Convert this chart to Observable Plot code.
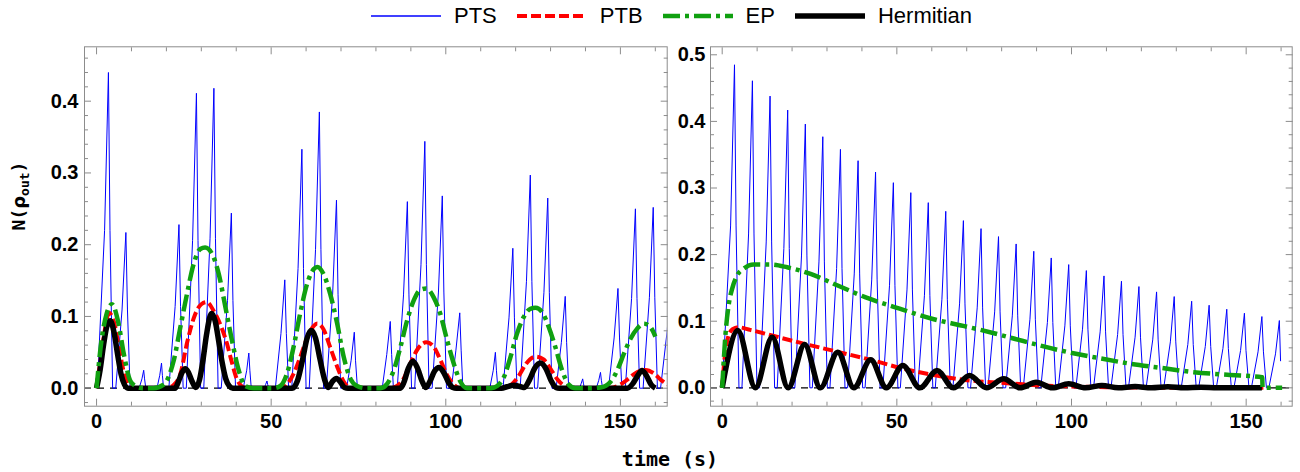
<!DOCTYPE html>
<html>
<head>
<meta charset="utf-8">
<script src="https://cdn.jsdelivr.net/npm/d3@7"></script>
<script src="https://cdn.jsdelivr.net/npm/@observablehq/plot@0.6"></script>
<style>
  html, body { margin: 0; padding: 0; background: #fff; }
  #root { position: relative; width: 1300px; height: 472px; overflow: hidden; background: #fff; }
  .panel { position: absolute; top: 0; }
  #legend { position: absolute; left: 371px; top: 2px; height: 28px; display: flex; align-items: center;
            font: 22px "Liberation Sans", Arial, sans-serif; color: #000; }
  #legend .item { display: flex; align-items: center; margin-right: 20px; }
  #legend svg { display: block; margin-right: 13px; }
  #xtitle { position: absolute; left: 670px; top: 459px; transform: translate(-50%, -50%);
            font: bold 20px "DejaVu Sans Mono", monospace; white-space: pre; }
  #ytitle { position: absolute; left: 20px; top: 196px; transform: translate(-50%, -50%) rotate(-90deg);
            font: bold 18px "DejaVu Sans Mono", monospace; white-space: nowrap; }
  #ytitle sub { font-size: 13px; vertical-align: -4px; }
  #ytitle .rho { font-family: "DejaVu Sans", sans-serif; font-weight: bold; }
</style>
</head>
<body>
<div id="root">
  <div id="legend"></div>
  <div id="left" class="panel" style="left:0px"></div>
  <div id="right" class="panel" style="left:640px"></div>
  <div id="xtitle">time (s)</div>
  <div id="ytitle">N(<span class="rho">ρ</span><sub>out</sub>)</div>
</div>
<script>
// ---- series names --------------------------------------------------------
const seriesNames = ["PTS", "PTB", "EP", "Hermitian"];

// ---- left panel: PTS spikes (time, value) --------------------------------
const ptsLeft = [
  [0,0],[0.2,0],[2.3,0.22],[3.4,0.44],[3.85,0.22],[4.6,0],
  [5.5,0],[7.3,0.109],[8.4,0.217],[8.85,0.109],[9.6,0],
  [12.2,0],[13.0,0.013],[13.5,0.025],[13.75,0.013],[14.1,0],
  [17.3,0],[18.1,0.018],[18.6,0.035],[18.85,0.018],[19.2,0],
  [20.7,0],[22.5,0.114],[23.6,0.228],[24.05,0.114],[24.8,0],
  [25.7,0],[27.5,0.206],[28.6,0.411],[29.05,0.206],[29.8,0],
  [30.7,0],[32.5,0.209],[33.6,0.418],[34.05,0.209],[34.8,0],
  [35.7,0],[37.5,0.122],[38.6,0.244],[39.05,0.122],[39.8,0],
  [42.0,0],[43.0,0.025],[43.6,0.049],[43.9,0.025],[44.3,0],
  [48.0,0],[48.4,0.005],[48.8,0.01],[49.0,0.005],[49.3,0],
  [51.2,0],[52.8,0.076],[53.9,0.151],[54.35,0.076],[55.0,0],
  [55.9,0],[57.7,0.167],[58.8,0.333],[59.25,0.167],[60.0,0],
  [60.9,0],[62.7,0.193],[63.8,0.385],[64.25,0.193],[65.0,0],
  [65.8,0],[67.6,0.131],[68.7,0.262],[69.15,0.131],[69.9,0],
  [71.6,0],[72.9,0.039],[73.8,0.078],[74.15,0.039],[74.7,0],
  [81.8,0],[83.1,0.047],[84.1,0.093],[84.5,0.047],[85.0,0],
  [86.1,0],[87.9,0.13],[89.0,0.26],[89.45,0.13],[90.2,0],
  [91.1,0],[92.9,0.172],[94.0,0.344],[94.45,0.172],[95.2,0],
  [96.1,0],[97.9,0.134],[99.0,0.268],[99.45,0.134],[100.2,0],
  [101.6,0],[102.9,0.053],[104.0,0.105],[104.4,0.053],[104.9,0],
  [112.6,0],[113.6,0.025],[114.2,0.05],[114.5,0.025],[114.9,0],
  [116.4,0],[118.1,0.098],[119.2,0.195],[119.65,0.098],[120.4,0],
  [121.3,0],[123.1,0.149],[124.2,0.297],[124.65,0.149],[125.4,0],
  [126.3,0],[128.1,0.133],[129.2,0.265],[129.65,0.133],[130.4,0],
  [131.6,0],[133.1,0.064],[134.2,0.128],[134.6,0.064],[135.2,0],
  [138.3,0],[138.8,0.007],[139.2,0.013],[139.4,0.007],[139.7,0],
  [143.1,0],[143.8,0.011],[144.3,0.022],[144.55,0.011],[144.9,0],
  [146.6,0],[148.2,0.07],[149.3,0.139],[149.75,0.07],[150.4,0],
  [151.4,0],[153.2,0.125],[154.3,0.25],[154.75,0.125],[155.5,0],
  [156.5,0],[158.3,0.126],[159.4,0.252],[159.85,0.126],[160.6,0],
  [161.5,0],[163.4,0.08],[164.5,0.16]
];

// ---- left panel: PTB (time, value) ---------------------------------------
const ptbLeft = [
  [0,0],[1,0.035],[2,0.07],[3.6,0.105],[5,0.092],[6.5,0.055],[8,0.018],[9.5,0.003],[11,0],
  [20,0],[22,0.004],[24,0.02],[26,0.065],[28,0.1],[30,0.117],[31.6,0.12],[33.5,0.108],[35.5,0.088],
  [37.3,0.063],[38.7,0.037],[40,0.015],[41.5,0.003],[43,0],
  [53,0],[54.5,0.005],[56.4,0.02],[58.3,0.043],[60.3,0.07],[62.2,0.087],[63.2,0.09],[65,0.082],
  [66.9,0.057],[68.9,0.03],[70.8,0.009],[73,0],
  [84,0],[86,0.003],[88,0.014],[90,0.036],[92,0.055],[94.4,0.064],[96.5,0.058],[98.4,0.04],
  [100.4,0.018],[102.3,0.005],[104,0],
  [115,0],[117,0.001],[119,0.006],[121,0.018],[123,0.034],[125.7,0.044],[128,0.04],[130,0.027],
  [132,0.012],[134,0.003],[136,0],
  [146,0],[148,0.001],[150,0.005],[152,0.012],[154,0.02],[157.2,0.0255],[159.5,0.021],[161.5,0.012],[163.5,0.005]
];

// ---- left panel: EP (time, value) ----------------------------------------
const epLeft = [
  [0,0],[1.4,0.066],[2.9,0.104],[4.4,0.117],[6.3,0.09],[7.8,0.048],[9.7,0.01],[11.6,0.002],[13.5,0],
  [16.3,0],[19.2,0.005],[22.1,0.0386],[24,0.085],[25.9,0.1315],[27.8,0.173],[29.7,0.194],[31.1,0.196],
  [33.1,0.187],[35,0.159],[36.9,0.113],[38.8,0.066],[40.7,0.025],[42.6,0.003],[45,0],
  [50.5,0],[52.6,0.003],[54.5,0.02],[56.4,0.057],[58.3,0.104],[60.3,0.1455],[62.2,0.166],[63.2,0.169],
  [65,0.159],[66.9,0.1315],[68.9,0.09],[70.8,0.043],[72.7,0.013],[74.6,0.003],[77,0],
  [81.3,0],[83.2,0.006],[85.1,0.025],[87,0.057],[88.9,0.094],[90.8,0.122],[92.7,0.137],[94.4,0.139],
  [96.5,0.127],[98.4,0.104],[100.4,0.0665],[102.3,0.034],[104.2,0.009],[106.1,0],
  [113,0],[114.7,0.003],[116.6,0.015],[118.5,0.043],[120.4,0.076],[122.3,0.099],[124.2,0.1107],[125.7,0.112],
  [127.6,0.106],[129.5,0.085],[131.4,0.057],[133.3,0.025],[135.2,0.005],[137.1,0],
  [141,0],[144.3,0.001],[147.2,0.009],[149.1,0.025],[151,0.048],[152.9,0.069],[154.8,0.083],[156.7,0.09],
  [158.6,0.085],[160,0.072]
];

// ---- left panel: Hermitian (time, value) ---------------------------------
const hermLeft = [
  [0,0],[1,0.025],[2,0.06],[3,0.087],[3.9,0.094],[5,0.078],[6,0.048],[7,0.02],[8,0.005],[9,0],
  [22.5,0],[23.5,0.01],[24.5,0.022],[25.4,0.027],[26.3,0.022],[27.3,0.01],[28.4,0.001],
  [29.5,0.012],[30.5,0.04],[31.5,0.075],[32.9,0.104],[34,0.093],[35,0.065],[36,0.035],[37,0.013],[38,0.003],[39,0],
  [56,0],[57.5,0.01],[59,0.04],[60.3,0.07],[61.5,0.0805],[62.7,0.07],[64,0.04],[65.3,0.012],[66.4,0.001],
  [67.5,0.009],[68.7,0.0135],[69.9,0.008],[71,0.001],[72,0],
  [87,0],[88,0.008],[89.3,0.028],[90.6,0.0376],[91.9,0.028],[93.2,0.01],[94.3,0.001],
  [95.5,0.01],[96.8,0.024],[98.1,0.029],[99.4,0.022],[100.8,0.008],[102,0.001],[103,0],
  [116,0],[117.5,0.002],[119.5,0.004],[121.5,0.002],[122.5,0.001],
  [124,0.012],[125.5,0.028],[127.1,0.035],[128.7,0.027],[130.2,0.01],[131.5,0.001],[132.5,0],
  [152,0],[153.5,0.006],[155,0.018],[156.2,0.0247],[157.4,0.018],[158.8,0.005],[160,0]
];

// ---- right panel: PTS spikes (time, value) -------------------------------
const ptsRight = [
  [0,0],[2.4,0.243],[3.52,0.485],[3.97,0.243],[4.8,0],
  [5.65,0],[7.55,0.231],[8.65,0.461],[9.1,0.231],[9.95,0],
  [10.7,0],[12.6,0.219],[13.7,0.438],[14.15,0.219],[15.0,0],
  [15.75,0],[17.65,0.209],[18.75,0.417],[19.2,0.209],[20.05,0],
  [20.8,0],[22.7,0.198],[23.8,0.396],[24.25,0.198],[25.1,0],
  [25.8,0],[27.7,0.189],[28.8,0.377],[29.25,0.189],[30.1,0],
  [30.85,0],[32.75,0.179],[33.85,0.358],[34.3,0.179],[35.15,0],
  [35.9,0],[37.8,0.171],[38.9,0.341],[39.35,0.171],[40.2,0],
  [40.9,0],[42.8,0.162],[43.9,0.324],[44.35,0.162],[45.2,0],
  [46.0,0],[47.9,0.154],[49.0,0.308],[49.45,0.154],[50.3,0],
  [51.0,0],[52.9,0.147],[54.0,0.293],[54.45,0.147],[55.3,0],
  [56.0,0],[57.9,0.139],[59.0,0.278],[59.45,0.139],[60.3,0],
  [61.0,0],[62.9,0.133],[64.0,0.265],[64.45,0.133],[65.3,0],
  [66.05,0],[67.95,0.126],[69.05,0.251],[69.5,0.126],[70.35,0],
  [71.1,0],[73.0,0.12],[74.1,0.239],[74.55,0.12],[75.4,0],
  [76.1,0],[78.0,0.114],[79.1,0.227],[79.55,0.114],[80.4,0],
  [81.15,0],[83.05,0.108],[84.15,0.216],[84.6,0.108],[85.45,0],
  [86.2,0],[88.1,0.103],[89.2,0.205],[89.65,0.103],[90.5,0],
  [91.2,0],[93.1,0.098],[94.2,0.195],[94.65,0.098],[95.5,0],
  [96.2,0],[98.1,0.093],[99.2,0.185],[99.65,0.093],[100.5,0],
  [101.25,0],[103.15,0.088],[104.25,0.176],[104.7,0.088],[105.55,0],
  [106.3,0],[108.2,0.084],[109.3,0.168],[109.75,0.084],[110.6,0],
  [111.3,0],[113.2,0.08],[114.3,0.16],[114.75,0.08],[115.6,0],
  [116.3,0],[118.2,0.076],[119.3,0.152],[119.75,0.076],[120.6,0],
  [121.35,0],[123.25,0.072],[124.35,0.144],[124.8,0.072],[125.65,0],
  [126.4,0],[128.3,0.069],[129.4,0.137],[129.85,0.069],[130.7,0],
  [131.4,0],[133.3,0.065],[134.4,0.13],[134.85,0.065],[135.7,0],
  [136.4,0],[138.3,0.062],[139.4,0.124],[139.85,0.062],[140.7,0],
  [141.45,0],[143.35,0.059],[144.45,0.118],[144.9,0.059],[145.75,0],
  [146.5,0],[148.4,0.056],[149.5,0.112],[149.95,0.056],[150.8,0],
  [151.5,0],[153.4,0.054],[154.5,0.107],[154.95,0.054],[155.8,0],
  [156.5,0],[158.4,0.051],[159.5,0.101],[159.85,0.04]
];

// ---- right panel: PTB (time, value) --------------------------------------
const ptbRight = [
  [0,0],[0.5,0.035],[1,0.058],[1.8,0.078],[3,0.088],[4.5,0.091],[8,0.087],[14.3,0.0785],[23.6,0.066],
  [33.1,0.054],[42.5,0.042],[51.7,0.029],[61.7,0.018],[70.9,0.011],[80,0.0075],[90,0.004],[100,0.002],
  [110,0.001],[120,0.0003],[130,0],[155,0]
];

// ---- right panel: EP (time, value) ---------------------------------------
const epRight = [
  [0,0],[0.95,0.081],[1.9,0.126],[2.86,0.149],[4.3,0.169],[6.2,0.179],[9,0.185],[13.8,0.185],[18.6,0.181],
  [25.3,0.171],[32.9,0.154],[41.5,0.135],[51,0.1185],[60.6,0.103],[69,0.093],[77.8,0.082],[87.3,0.0685],
  [96.9,0.056],[106.4,0.046],[115.9,0.037],[125.5,0.03],[135,0.0235],[144.6,0.0195],[154.6,0.016],
  [154.7,0],[160.3,0]
];

// ---- right panel: Hermitian (time, value) --------------------------------
const hermRight = [
  [0,0],[4.47,0.086],[9.5,0],[14.3,0.076],[18.9,0],[23.6,0.065],[28.1,0],[33.1,0.0535],[37.7,0],
  [42.5,0.042],[47.0,0],[51.7,0.0335],[56.6,0],[61.5,0.026],[66.2,0],[70.8,0.0185],[75.7,0],
  [80.6,0.0135],[85.3,0],[89.9,0.0085],[94.5,0],[99.2,0.006],[104,0],[108.7,0.0035],[113.4,0],
  [118.2,0.002],[122.9,0],[127.6,0.0015],[132.3,0],[137,0.001],[141.8,0],[154.5,0]
];

// ---- axis ticks ----------------------------------------------------------
const xMajor = [0, 50, 100, 150];
const xMinor = [10, 20, 30, 40, 60, 70, 80, 90, 110, 120, 130, 140, 160];
const yMajorLeft = [0, 0.1, 0.2, 0.3, 0.4];
const yMinorLeft = [-0.02, 0.02, 0.04, 0.06, 0.08, 0.12, 0.14, 0.16, 0.18, 0.22, 0.24, 0.26, 0.28,
                    0.32, 0.34, 0.36, 0.38, 0.42, 0.44, 0.46];
const yMajorRight = [0, 0.1, 0.2, 0.3, 0.4, 0.5];
const yMinorRight = [-0.02, 0.02, 0.04, 0.06, 0.08, 0.12, 0.14, 0.16, 0.18, 0.22, 0.24, 0.26, 0.28,
                     0.32, 0.34, 0.36, 0.38, 0.42, 0.44, 0.46, 0.48];

// line styles for each series
const styles = {
  PTS:       {stroke: "#0000ff", strokeWidth: 1, curve: "linear"},
  PTB:       {stroke: "#ff0000", strokeWidth: 4, strokeDasharray: "10,4", curve: "monotone-x"},
  EP:        {stroke: "#10a010", strokeWidth: 4.5, strokeDasharray: "17,5,4,5", curve: "monotone-x"},
  Hermitian: {stroke: "#000000", strokeWidth: 5.5, curve: "monotone-x"}
};
const frameColor = "#8c8c8c";

function toRows(points) { return points.map(([t, v]) => ({t, v})); }

function panel({width, marginLeft, marginRight, xDomain, yDomain, yMajor, yMinor, labelPad, data}) {
  const lineOpts = (name) => ({x: "t", y: "v", clip: true, strokeLinejoin: "round",
                               strokeLinecap: "butt", ...styles[name]});
  const tickAxis = (fn, anchor, ticks, size) =>
    fn({anchor, ticks, tickSize: -size, fill: "none", stroke: frameColor, label: null});
  return Plot.plot({
    width, height: 440,
    marginLeft, marginRight, marginTop: 46.3, marginBottom: 34.3,
    x: {domain: xDomain},
    y: {domain: yDomain},
    style: {background: "transparent", overflow: "visible", color: "#000",
            fontFamily: "'Liberation Sans', Arial, sans-serif"},
    marks: [
      Plot.ruleY([0], {stroke: "#000", strokeWidth: 1.2, strokeDasharray: "7,6"}),
      Plot.line(toRows(data.PTS), lineOpts("PTS")),
      Plot.line(toRows(data.PTB), lineOpts("PTB")),
      Plot.line(toRows(data.Hermitian), lineOpts("Hermitian")),
      Plot.line(toRows(data.EP), lineOpts("EP")),
      Plot.frame({stroke: frameColor, strokeWidth: 1}),
      // tick labels
      Plot.axisX({anchor: "bottom", ticks: xMajor, tickSize: 0, tickPadding: 8, label: null,
                  fontSize: 20, fontWeight: "bold", tickFormat: d3.format("d")}),
      Plot.axisY({anchor: "left", ticks: yMajor, tickSize: 0, tickPadding: labelPad, label: null,
                  fontSize: 20, fontWeight: "bold", tickFormat: d3.format(".1f")}),
      // inward frame ticks on all four sides
      tickAxis(Plot.axisX, "bottom", xMajor, 7), tickAxis(Plot.axisX, "bottom", xMinor, 4),
      tickAxis(Plot.axisX, "top", xMajor, 7), tickAxis(Plot.axisX, "top", xMinor, 4),
      tickAxis(Plot.axisY, "left", yMajor, 7), tickAxis(Plot.axisY, "left", yMinor, 4),
      tickAxis(Plot.axisY, "right", yMajor, 7), tickAxis(Plot.axisY, "right", yMinor, 4)
    ]
  });
}

document.getElementById("left").append(panel({
  width: 690, marginLeft: 84, marginRight: 23.3,
  xDomain: [-3.45, 163.4], yDomain: [-0.0251, 0.4758],
  yMajor: yMajorLeft, yMinor: yMinorLeft, labelPad: 6,
  data: {PTS: ptsLeft, PTB: ptbLeft, EP: epLeft, Hermitian: hermLeft}
}));

document.getElementById("right").append(panel({
  width: 660, marginLeft: 70, marginRight: 8.3,
  xDomain: [-3.35, 163.18], yDomain: [-0.0276, 0.512],
  yMajor: yMajorRight, yMinor: yMinorRight, labelPad: 5,
  data: {PTS: ptsRight, PTB: ptbRight, EP: epRight, Hermitian: hermRight}
}));

// legend
const legend = d3.select("#legend");
for (const name of seriesNames) {
  const s = styles[name];
  const item = legend.append("div").attr("class", "item");
  const svg = item.append("svg").attr("width", 70).attr("height", 10);
  svg.append("line").attr("x1", 0).attr("x2", 70).attr("y1", 5).attr("y2", 5)
    .attr("stroke", s.stroke)
    .attr("stroke-width", name === "PTS" ? 1.3 : s.strokeWidth)
    .attr("stroke-dasharray", s.strokeDasharray || null);
  item.append("span").text(name);
}
</script>
</body>
</html>
